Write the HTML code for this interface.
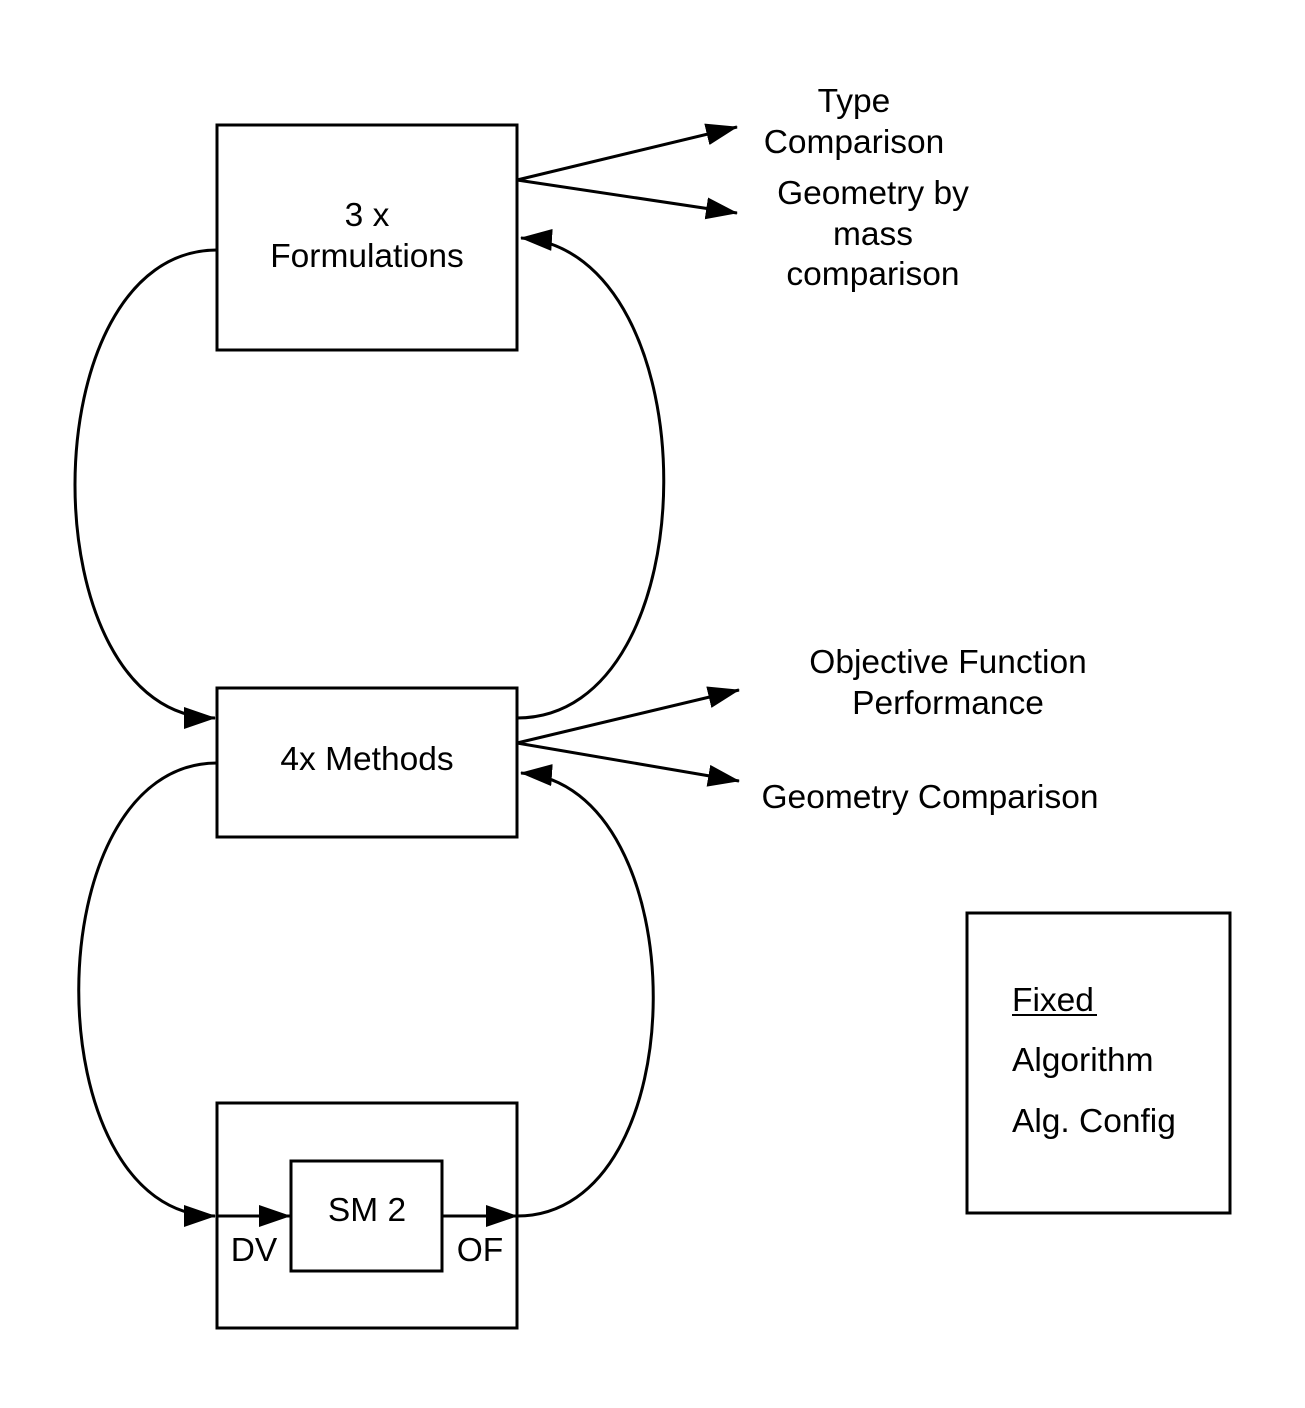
<!DOCTYPE html>
<html><head><style>body{margin:0;background:#fff}svg text{font-family:"Liberation Sans",sans-serif;font-size:33.5px;fill:#000}</style></head>
<body>
<svg width="1305" height="1403" viewBox="0 0 1305 1403" xmlns="http://www.w3.org/2000/svg">
<defs><marker id="a" markerWidth="32" markerHeight="22" refX="31" refY="11" orient="auto" markerUnits="userSpaceOnUse"><path d="M0,0 L32,11 L0,22 Z" fill="#000"/></marker></defs>
<g fill="none" stroke="#000" stroke-width="3">
<rect x="217" y="125" width="300" height="225"/>
<rect x="217" y="688" width="300" height="149"/>
<rect x="217" y="1103" width="300" height="225"/>
<rect x="291" y="1161" width="151" height="110"/>
<rect x="967" y="913" width="263" height="300"/>
<path d="M517,180 L737,127" marker-end="url(#a)"/>
<path d="M517,180 L737,213" marker-end="url(#a)"/>
<path d="M517,743 L739,690" marker-end="url(#a)"/>
<path d="M517,743 L739,781" marker-end="url(#a)"/>
<path d="M217,250 C28,250 28,718 215,718" marker-end="url(#a)"/>
<path d="M517,718 C712,718 712,250 521,238" marker-end="url(#a)"/>
<path d="M217,763 C33,763 33,1216 215,1216" marker-end="url(#a)"/>
<path d="M517,1216 C698,1216 698,785 521,773" marker-end="url(#a)"/>
<path d="M217,1216 L290,1216" marker-end="url(#a)"/>
<path d="M442,1216 L517,1216" marker-end="url(#a)"/>
</g>
<g text-anchor="middle">
<text x="367" y="226">3 x</text>
<text x="367" y="267">Formulations</text>
<text x="367" y="770">4x Methods</text>
<text x="367" y="1221">SM 2</text>
<text x="254" y="1261">DV</text>
<text x="480" y="1261">OF</text>
<text x="854" y="112">Type</text>
<text x="854" y="153">Comparison</text>
<text x="873" y="204">Geometry by</text>
<text x="873" y="245">mass</text>
<text x="873" y="285">comparison</text>
<text x="948" y="673">Objective Function</text>
<text x="948" y="714">Performance</text>
<text x="930" y="808">Geometry Comparison</text>
</g>
<text x="1012" y="1011">Fixed</text>
<line x1="1012" y1="1015" x2="1097" y2="1015" stroke="#000" stroke-width="2"/>
<text x="1012" y="1071">Algorithm</text>
<text x="1012" y="1132">Alg. Config</text>
</svg>
</body></html>
